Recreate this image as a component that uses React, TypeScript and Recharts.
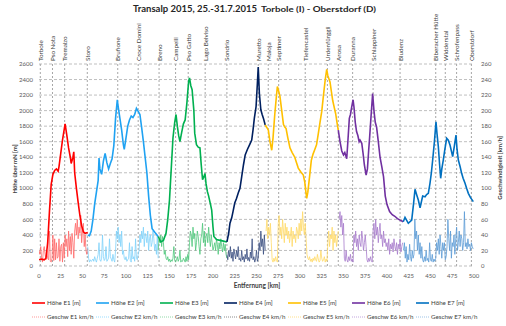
import { CartesianGrid, Line, LineChart, ReferenceLine, XAxis, YAxis } from "recharts";

// axis ticks
const kmTicks = [0, 25, 50, 75, 100, 125, 150, 175, 200, 225, 250, 275, 300, 325, 350, 375, 400, 425, 450, 475, 500];
const hoeheTicks = [0, 200, 400, 600, 800, 1000, 1200, 1400, 1600, 1800, 2000, 2200, 2400, 2600];
const geschwTicks = [0, 20, 40, 60, 80, 100, 120, 140, 160, 180, 200, 220, 240, 260];

// places along the route
const placeNames = [
  "Torbole", "Pso Nota", "Tremalzo", "Storo", "Brufione", "Croce Domini", "Breno", "Campelli",
  "Pso Gatto", "Lago Belviso", "Sondrio", "Muretto", "Maloja", "Septimer", "Tiefencastel",
  "Urdenfürggli", "Arosa", "Duranna", "Schlappiner", "Bludenz", "Biberacher Hütte", "Widderstal",
  "Schrofenpass", "Oberstdorf",
];
const placeKm = [1.5, 15.5, 29.5, 55.5, 90.5, 114, 138, 157, 171.5, 191, 216, 252, 263.5, 275.5, 306, 331.5, 344, 360.5, 384, 415, 456, 467, 480, 497];

// elevation [km, m]
const hoeheE1: [number, number][] = [
  [0, 80], [2, 90], [4, 85], [6, 80], [8, 100], [10, 300], [12, 700], [14, 1050], [16, 1180], [18, 1230],
  [20, 1250], [22, 1220], [23, 1280], [25, 1450], [27, 1620], [30, 1830], [32, 1680], [34, 1520], [36, 1400],
  [37, 1320], [39, 1400], [40, 1470], [41, 1200], [43, 1000], [45, 820], [47, 650], [49, 520], [51, 440],
  [53, 420], [56, 430],
];
const hoeheE2: [number, number][] = [
  [56, 400], [58, 390], [60, 450], [62, 600], [64, 800], [66, 950], [68, 1100], [69, 1390], [70, 1250],
  [72, 1180], [74, 1350], [76, 1450], [78, 1330], [80, 1250], [82, 1320], [84, 1380], [86, 1550], [88, 1900],
  [90, 2140], [91, 2050], [93, 1900], [95, 1750], [97, 1560], [98, 1500], [100, 1650], [102, 1800],
  [104, 1880], [106, 1930], [108, 1910], [110, 1950], [112, 2030], [114, 1990], [116, 1950], [118, 1780],
  [120, 1600], [122, 1400], [124, 1200], [126, 900], [128, 650], [130, 480], [132, 450], [134, 420], [137, 380],
];
const hoeheE3: [number, number][] = [
  [137, 380], [140, 310], [143, 330], [146, 420], [148, 600], [150, 850], [152, 1250], [154, 1650],
  [156, 1850], [157.5, 1950], [159, 1800], [160.5, 1680], [162, 1600], [164, 1720], [166, 1830], [168, 1880],
  [170, 2100], [172, 2380], [173, 2420], [174.5, 2320], [176, 2270], [178, 2000], [179, 1710], [181, 1560],
  [183, 1530], [185, 1520], [186.5, 1300], [188, 1110], [189.5, 1150], [190.8, 1190], [192, 1060],
  [193.5, 960], [195, 900], [197, 800], [198.5, 720], [200, 500], [201, 380], [204, 340], [208, 330],
  [212, 320], [216, 310],
];
const hoeheE4: [number, number][] = [
  [216, 310], [218, 420], [219.5, 550], [221.5, 620], [223, 700], [225, 810], [227, 870], [229, 940],
  [231, 1000], [233, 1150], [235, 1300], [237, 1430], [239.5, 1500], [242, 1560], [244.5, 1620],
  [246, 1750], [247.5, 1900], [249.5, 2050], [251, 2350], [252, 2560], [253.3, 2220], [255, 2010],
  [256.5, 1950], [258, 1900], [260, 1815],
];
const hoeheE5: [number, number][] = [
  [260, 1815], [262, 1780], [263.6, 1750], [265.5, 1600], [267.5, 1490], [269, 1650], [271, 1950],
  [273, 2200], [274, 2310], [275.5, 2250], [277, 2180], [279, 2000], [281, 1820], [282.5, 1790],
  [284, 1770], [286, 1650], [288.5, 1520], [291, 1460], [294, 1400], [296, 1330], [298, 1260], [301, 1210],
  [303.8, 1170], [305.5, 1080], [306.8, 950], [307.7, 870], [309, 950], [311, 1150], [313, 1360],
  [315, 1440], [317, 1500], [319, 1560], [321, 1700], [323, 1850], [325, 1990], [327, 2200], [329, 2400],
  [330.7, 2530], [332, 2450], [334.5, 2370], [336, 2250], [337.6, 2130], [339, 2060], [341, 1960],
  [342.5, 1850], [344, 1750],
];
const hoeheE6: [number, number][] = [
  [344, 1750], [346, 1600], [348, 1480], [350, 1430], [351.5, 1460], [353.7, 1380], [355, 1600],
  [356.7, 1900], [358, 1950], [359.5, 2050], [361, 2140], [362, 2050], [363.5, 1850], [365, 1730],
  [366.5, 1680], [368, 1600], [369, 1620], [371, 1580], [372.5, 1450], [374, 1300], [376, 1170],
  [377.5, 1250], [379, 1500], [380, 1650], [381.5, 1900], [383.5, 2220], [385, 2000], [386.5, 1850],
  [388, 1790], [390, 1600], [392, 1400], [394, 1280], [396, 1150], [398, 900], [400, 790], [403, 700],
  [406, 660], [409, 640], [412, 610], [415, 590], [418.7, 570],
];
const hoeheE7: [number, number][] = [
  [418.7, 570], [420.7, 627], [424.5, 550], [428.4, 590], [430.5, 800], [432.2, 987], [434, 920],
  [436, 850], [438, 750], [441, 900], [443.7, 890], [445.5, 920], [447.5, 935], [449.4, 1064], [451, 1200],
  [452.5, 1364], [454.5, 1600], [456.3, 1857], [457.5, 1700], [459, 1536], [460.5, 1300], [461.7, 1129],
  [463, 1250], [464.7, 1364], [466.5, 1500], [468.6, 1643], [470.5, 1620], [472.4, 1557], [474, 1480],
  [475.5, 1407], [477.5, 1550], [479.3, 1686], [480.5, 1500], [482, 1364], [484, 1280], [485.8, 1193],
  [487.5, 1130], [489.7, 1064], [491.5, 1000], [493.5, 935], [496, 880], [499.2, 828],
];

// speed in km/h, one reading per km starting at geschwStart
const geschwStart = [0, 56, 137, 216, 261, 345, 419];
const geschwE1 = [
  20, 15, 25, 10, 5, 20, 25, 15, 8, 20, 10, 8, 45, 6, 5, 10, 40, 7, 35, 8,
  30, 10, 12, 35, 6, 25, 28, 5, 30, 10, 40, 25, 35, 12, 45, 20, 38, 15, 42, 30, 10,
  45, 55, 40, 60, 35, 50, 42, 65, 30, 45, 55, 25, 40, 20, 15, 22,
];
const geschwE2 = [
  25, 10, 5, 8, 6, 7, 9, 6, 12, 8, 5, 10, 15, 30, 8, 6, 10, 40, 12, 7, 9, 25, 6, 8, 10, 35, 12, 9, 6, 15,
  8, 5, 20, 45, 35, 50, 30, 40, 25, 45, 15, 20, 10, 8, 12, 6, 8, 10, 30, 7, 5, 25, 9, 12, 6, 35, 10, 8, 15,
  20, 40, 30, 45, 35, 50, 25, 42, 38, 30, 45, 20, 35, 40, 25, 30, 45, 35, 20, 28, 15, 40, 10,
];
const geschwE3 = [
  20, 35, 30, 40, 25, 38, 30, 15, 20, 10, 8, 12, 6, 9, 5, 8, 6, 10, 25, 7, 5, 8, 12, 6, 9, 20, 5, 7, 6, 10,
  8, 5, 12, 6, 15, 8, 30, 45, 40, 25, 50, 35, 42, 20, 30, 45, 38, 25, 15, 35, 40, 55, 30, 45, 25, 38, 42,
  30, 50, 35, 25, 40, 30, 20, 25, 30, 20, 35, 28, 15, 30, 22, 35, 25, 18, 30, 20, 28, 15, 10,
];
const geschwE4 = [
  15, 8, 20, 12, 25, 10, 18, 6, 22, 15, 9, 20, 12, 25, 8, 10, 6, 20, 8, 12, 5, 15, 9, 22, 7, 11, 6, 18,
  10, 35, 8, 12, 5, 9, 20, 6, 10, 30, 20, 45, 25, 35, 15, 40, 20,
];
const geschwE5 = [
  45, 60, 35, 50, 40, 55, 30, 8, 5, 10, 6, 12, 7, 5, 55, 65, 40, 50, 35, 60, 45, 30, 55, 40, 50, 35, 45,
  30, 40, 50, 25, 45, 35, 40, 30, 50, 45, 35, 55, 40, 60, 45, 70, 50, 40, 55, 35, 15, 10, 8, 12, 6, 9, 5,
  10, 7, 12, 8, 6, 15, 9, 5, 7, 20, 10, 6, 8, 12, 5, 9, 6, 30, 45, 25, 40, 35, 50, 20, 45, 30, 40, 25, 35, 45,
];
const geschwE6 = [
  60, 70, 50, 65, 40, 55, 10, 6, 20, 8, 5, 12, 7, 15, 6, 9, 5, 40, 30, 45, 25, 35, 20, 40, 30, 25, 45, 35,
  20, 30, 40, 25, 8, 5, 10, 6, 12, 7, 5, 45, 55, 35, 60, 40, 50, 30, 45, 55, 35, 40, 25, 45, 30, 35, 25,
  30, 20, 35, 15, 28, 22, 30, 18, 35, 25, 20, 30, 15, 28, 22, 35, 18, 25, 30,
];
const geschwE7 = [
  20, 30, 10, 25, 5, 15, 8, 28, 12, 6, 20, 10, 15, 60, 35, 45, 20, 40, 15, 30, 10, 25, 8, 5, 12, 6, 20, 7,
  10, 5, 30, 8, 6, 15, 5, 9, 6, 10, 30, 20, 35, 15, 40, 25, 10, 30, 20, 30, 8, 12, 25, 60, 35, 20, 45, 10,
  30, 25, 40, 15, 35, 50, 20, 30, 45, 25, 40, 35, 20, 30, 70, 25, 30, 22, 35, 25, 28, 20, 30, 25, 22,
];

const hoeheColors = ["#FF0000", "#1FA2F2", "#00B050", "#002060", "#FFC000", "#7030A0", "#0070C0"];
const geschwColors = ["#FF6A6A", "#7FD2FA", "#4CC77A", "#3A4E80", "#FFD966", "#A77BCB", "#5B9BD5"];
const legendGeschwColors = ["#FF9999", "#99DDFF", "#92D9A8", "#8C8C8C", "#FFE08A", "#C3A6DE", "#9DC3E6"];

const hoeheSeries = [hoeheE1, hoeheE2, hoeheE3, hoeheE4, hoeheE5, hoeheE6, hoeheE7];
const geschwSeries = [geschwE1, geschwE2, geschwE3, geschwE4, geschwE5, geschwE6, geschwE7];

const font = "Lato, 'Liberation Sans', sans-serif";

function PlaceTick(props: any) {
  const { x, payload } = props;
  const name = placeNames[placeKm.indexOf(payload.value)];
  return (
    <text
      transform={`translate(${x},61) rotate(-90)`}
      textAnchor="start"
      dominantBaseline="central"
      fontSize={6.3}
      fontFamily={font}
      fill="#404040"
    >
      {name}
    </text>
  );
}

export default function App() {
  const tickStyle = { fontSize: 6, fill: "#595959", fontFamily: font };
  return (
    <div style={{ position: "absolute", left: 0, top: 0, width: 506, height: 326, background: "#fff" }}>
      <LineChart width={506} height={326} margin={{ top: 4, right: 8, bottom: 40, left: 14 }}>
        <CartesianGrid xAxisId="bottom" yAxisId="left" vertical={false} stroke="#BFBFBF" strokeDasharray="3 2" />
        <XAxis
          xAxisId="top"
          orientation="top"
          type="number"
          dataKey="km"
          domain={[0, 500]}
          allowDataOverflow
          ticks={placeKm}
          interval={0}
          tick={(p: any) => <PlaceTick {...p} />}
          height={60}
          axisLine={false}
          tickLine={false}
        />
        <XAxis
          xAxisId="bottom"
          type="number"
          dataKey="km"
          domain={[0, 500]}
          allowDataOverflow
          ticks={kmTicks}
          interval={0}
          tick={tickStyle}
          height={20}
          axisLine={false}
          tickLine={false}
        />
        <YAxis
          yAxisId="left"
          domain={[0, 2600]}
          ticks={hoeheTicks}
          interval={0}
          tick={tickStyle}
          width={25}
          tickSize={4}
          axisLine={false}
          tickLine={false}
        />
        <YAxis
          yAxisId="right"
          orientation="right"
          domain={[0, 260]}
          ticks={geschwTicks}
          interval={0}
          tick={tickStyle}
          width={24}
          tickSize={5}
          axisLine={false}
          tickLine={false}
        />
        {placeKm.map((k) => (
          <ReferenceLine key={k} xAxisId="bottom" yAxisId="left" x={k} stroke="#A6A6A6" strokeDasharray="2 2" />
        ))}
        {geschwSeries.map((vals, i) => (
          <Line
            key={"g" + i}
            xAxisId="bottom"
            yAxisId="right"
            data={vals.map((v, j) => ({ km: geschwStart[i] + j, v }))}
            dataKey="v"
            type="linear"
            stroke={geschwColors[i]}
            strokeWidth={0.8}
            dot={false}
            isAnimationActive={false}
          />
        ))}
        {hoeheSeries.map((pts, i) => (
          <Line
            key={"h" + i}
            xAxisId="bottom"
            yAxisId="left"
            data={pts.map(([km, h]) => ({ km, h }))}
            dataKey="h"
            type="linear"
            stroke={hoeheColors[i]}
            strokeWidth={1.6}
            dot={false}
            isAnimationActive={false}
          />
        ))}
      </LineChart>
      <svg width={506} height={326} style={{ position: "absolute", left: 0, top: 0, pointerEvents: "none" }}>
        <text x={133} y={11.5} fontSize={9.5} fontWeight="bold" fontFamily={font} fill="#262626" textLength={124} lengthAdjust="spacingAndGlyphs">
          Transalp 2015, 25.-31.7.2015
        </text>
        <text x={261} y={11.5} fontSize={8} fontWeight="bold" fontFamily={font} fill="#262626" textLength={115} lengthAdjust="spacingAndGlyphs">
          Torbole (I) - Oberstdorf (D)
        </text>
        <text transform="translate(14,169) rotate(-90)" textAnchor="middle" dominantBaseline="central" fontSize={6} fontWeight="bold" fontFamily={font} fill="#404040">
          Höhe über mN [m]
        </text>
        <text transform="translate(499,168) rotate(-90)" textAnchor="middle" dominantBaseline="central" fontSize={6} fontWeight="bold" fontFamily={font} fill="#404040">
          Geschwindigkeit [km/h]
        </text>
        <text x={257} y={288} textAnchor="middle" fontSize={6.5} fontWeight="bold" fontFamily={font} fill="#404040">
          Entfernung [km]
        </text>
        {hoeheColors.map((c, i) => (
          <g key={"lh" + i}>
            <line x1={32 + i * 64} x2={45 + i * 64} y1={303} y2={303} stroke={c} strokeWidth={1.6} />
            <text x={47 + i * 64} y={305.2} fontSize={6.2} fontFamily={font} fill="#404040">
              {`Höhe E${i + 1} [m]`}
            </text>
          </g>
        ))}
        {legendGeschwColors.map((c, i) => (
          <g key={"lg" + i}>
            <line x1={32 + i * 64} x2={45 + i * 64} y1={317} y2={317} stroke={c} strokeWidth={1} strokeDasharray="1 1" />
            <text x={47 + i * 64} y={319.2} fontSize={6.2} fontFamily={font} fill="#404040">
              {`Geschw E${i + 1} km/h`}
            </text>
          </g>
        ))}
      </svg>
    </div>
  );
}
